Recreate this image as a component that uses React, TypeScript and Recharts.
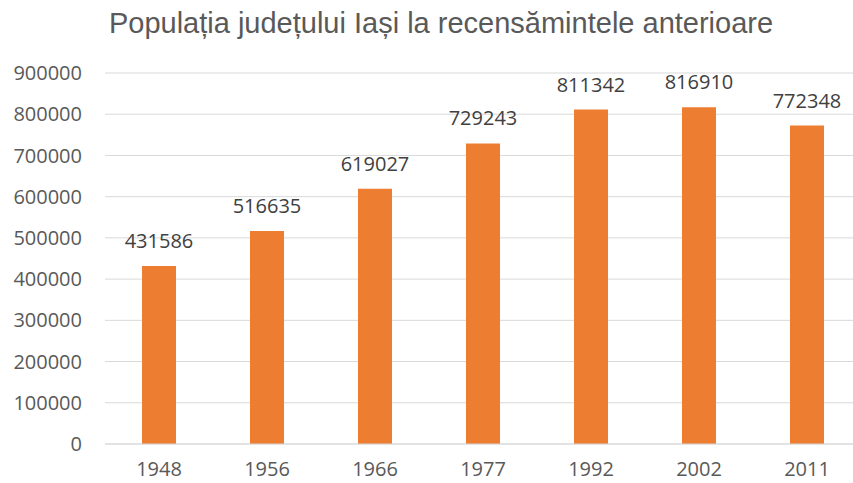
import React from "react";
import { BarChart, Bar, XAxis, YAxis, CartesianGrid, LabelList } from "recharts";

const years = ["1948", "1956", "1966", "1977", "1992", "2002", "2011"];
const population = [431586, 516635, 619027, 729243, 811342, 816910, 772348];
const yTicks = [0, 100000, 200000, 300000, 400000, 500000, 600000, 700000, 800000, 900000];

const title = "Populația județului Iași la recensămintele anterioare";

const data = years.map((year, i) => ({ year, value: population[i] }));

const axisFont = { fontFamily: "'Open Sans', sans-serif", fontSize: 20, fill: "#595959" };

export default function App() {
  return (
    <div
      style={{
        position: "absolute",
        left: 0,
        top: 0,
        width: 853,
        height: 483,
        overflow: "hidden",
        background: "#fff",
      }}
    >
      <div
        style={{
          position: "absolute",
          left: 441,
          top: 9,
          transform: "translateX(-50%)",
          whiteSpace: "nowrap",
          fontFamily: "'Liberation Sans', Arial, sans-serif",
          fontSize: 29,
          lineHeight: "29px",
          color: "#595959",
        }}
      >
        {title}
      </div>
      <BarChart
        width={870}
        height={483}
        data={data}
        margin={{ top: 73, right: 9, bottom: 0, left: 0 }}
        barSize={34}
      >
        <CartesianGrid vertical={false} stroke="#d9d9d9" strokeWidth={1} />
        <XAxis
          dataKey="year"
          height={39}
          tickLine={false}
          tickSize={0}
          tickMargin={18}
          axisLine={{ stroke: "#d9d9d9" }}
          tick={axisFont}
        />
        <YAxis
          width={105}
          domain={[0, 900000]}
          ticks={yTicks}
          interval={0}
          tickLine={false}
          axisLine={false}
          tickSize={0}
          tickMargin={23}
          tick={axisFont}
        />
        <Bar dataKey="value" fill="#ED7D31" isAnimationActive={false}>
          <LabelList
            dataKey="value"
            position="top"
            offset={18}
            style={{ fontFamily: "'Open Sans', sans-serif", fontSize: 20, fill: "#404040" }}
          />
        </Bar>
      </BarChart>
    </div>
  );
}
